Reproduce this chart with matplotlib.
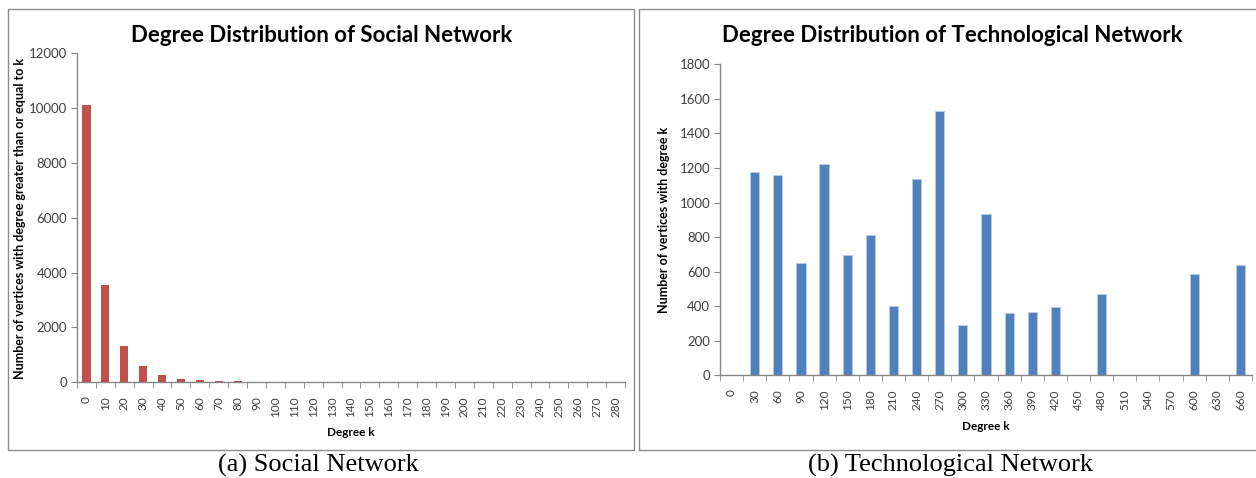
import matplotlib

matplotlib.use("Agg")
import matplotlib.pyplot as plt
import numpy as np
from matplotlib.patches import Rectangle
from matplotlib.lines import Line2D

# ---- data ----
social_k = list(range(0, 290, 10))
social_counts = [10100, 3550, 1325, 594, 266, 120, 73, 40, 35] + [0] * 20

tech_k = list(range(0, 690, 30))
tech_counts = [0, 1176, 1161, 648, 1224, 694, 814, 399, 1136, 1529, 289, 933,
               360, 366, 393, 0, 472, 0, 0, 0, 584, 0, 640]

RED = "#C0504D"
BLUE = "#4F81BD"
AXIS_GRAY = "#868686"
TEXT_GRAY = "#404040"

plt.rcParams["font.family"] = ["Lato", "DejaVu Sans"]

W, H = 1256, 478
fig = plt.figure(figsize=(W / 100, H / 100), dpi=100)


def px_axes(x0, y_top, x1, y_bot):
    return fig.add_axes([x0 / W, 1 - y_bot / H, (x1 - x0) / W, (y_bot - y_top) / H])


def style_axes(ax, cats, yticks):
    n = len(cats)
    ax.set_xlim(-0.5, n - 0.5)
    ax.set_ylim(0, yticks[-1])
    ax.set_yticks(yticks)
    ax.set_yticklabels([str(v) for v in yticks], fontsize=9.5, color=TEXT_GRAY)
    # category labels centred, tick marks between categories
    ax.set_xticks(np.arange(n))
    ax.set_xticklabels([str(c) for c in cats], rotation=90, fontsize=8.5, color=TEXT_GRAY)
    ax.set_xticks(np.arange(n + 1) - 0.5, minor=True)
    ax.tick_params(axis="x", which="major", length=0, pad=10)
    ax.tick_params(axis="x", which="minor", length=4, color=AXIS_GRAY, direction="out")
    ax.tick_params(axis="y", length=4, color=AXIS_GRAY, direction="out", pad=3)
    for s in ("top", "right"):
        ax.spines[s].set_visible(False)
    for s in ("left", "bottom"):
        ax.spines[s].set_color(AXIS_GRAY)
        ax.spines[s].set_linewidth(1.0)


# ---- (a) social network ----
ax1 = px_axes(77, 53.3, 625, 382.3)
ax1.bar(np.arange(len(social_k)), social_counts, width=0.43, color=RED, zorder=2)
style_axes(ax1, social_k, list(range(0, 12001, 2000)))
fig.text(322 / W, 1 - 35 / H, "Degree Distribution of Social Network",
         ha="center", va="center", fontsize=16, fontweight="bold", color="black")
fig.text(20 / W, 1 - 218 / H, "Number of vertices with degree greater than or equal to k",
         ha="center", va="center", rotation=90, fontsize=9, fontweight="bold", color="black")
fig.text(351 / W, 1 - 433 / H, "Degree k", ha="center", va="center",
         fontsize=8.5, fontweight="bold", color="black")

# ---- (b) technological network ----
ax2 = px_axes(720, 64.3, 1252, 375.3)
ax2.bar(np.arange(len(tech_k)), tech_counts, width=0.4, color=BLUE,
        edgecolor="#B9CDE5", linewidth=0.6, zorder=2)
style_axes(ax2, tech_k, list(range(0, 1801, 200)))
fig.text(952 / W, 1 - 35 / H, "Degree Distribution of Technological Network",
         ha="center", va="center", fontsize=16, fontweight="bold", color="black")
fig.text(664 / W, 1 - 220 / H, "Number of vertices with degree k",
         ha="center", va="center", rotation=90, fontsize=9, fontweight="bold", color="black")
fig.text(986 / W, 1 - 427 / H, "Degree k", ha="center", va="center",
         fontsize=8.5, fontweight="bold", color="black")

# ---- panel frames ----
frame_kw = dict(transform=fig.transFigure, fill=False, edgecolor="#8C8C8C", linewidth=1.0)
fig.patches.append(Rectangle((8 / W, 1 - 450 / H), 626 / W, 441 / H, **frame_kw))
fig.lines.append(Line2D([639 / W, 639 / W, 1.0], [1 - 450 / H, 1 - 9 / H, 1 - 9 / H],
                        transform=fig.transFigure, color="#8C8C8C", linewidth=1.0))
fig.lines.append(Line2D([639 / W, 1.0], [1 - 450 / H, 1 - 450 / H],
                        transform=fig.transFigure, color="#8C8C8C", linewidth=1.0))

# ---- captions ----
cap_kw = dict(ha="center", va="center", fontsize=19, family="Liberation Serif", color="black")
fig.text(318 / W, 1 - 465 / H, "(a) Social Network", **cap_kw)
fig.text(951 / W, 1 - 465 / H, "(b) Technological Network", **cap_kw)

fig.savefig("out.png", dpi=100)
